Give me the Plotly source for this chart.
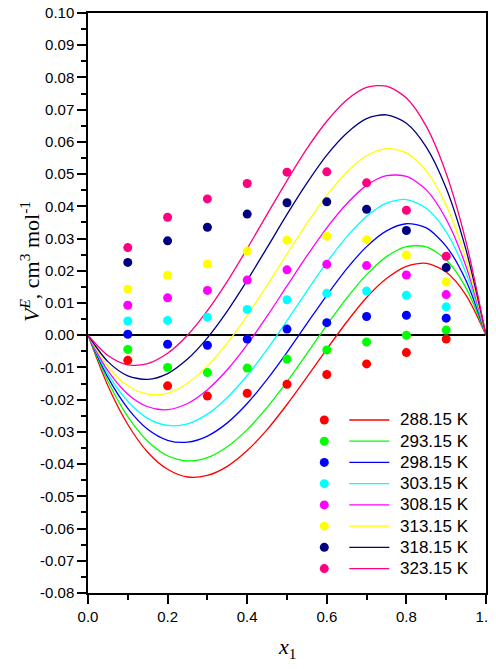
import plotly.graph_objects as go

# ---------------- data ----------------
x_points = [0.1, 0.2, 0.3, 0.4, 0.5, 0.6, 0.7, 0.8, 0.9]
x_curve = [0.0, 0.05, 0.10, 0.15, 0.20, 0.25, 0.30, 0.35, 0.40, 0.45, 0.50,
           0.55, 0.60, 0.65, 0.70, 0.75, 0.80, 0.85, 0.90, 0.95, 1.0]

temperature_labels = ["288.15 K", "293.15 K", "298.15 K", "303.15 K",
                      "308.15 K", "313.15 K", "318.15 K", "323.15 K"]

# experimental points
vE_288 = [-0.0078, -0.0157, -0.0189, -0.0180, -0.0152, -0.0122, -0.0089, -0.0054, -0.0012]
vE_293 = [-0.0044, -0.0100, -0.0116, -0.0102, -0.0074, -0.0046, -0.0021, 0.0000, 0.0016]
vE_298 = [0.0003, -0.0028, -0.0031, -0.0012, 0.0019, 0.0039, 0.0058, 0.0062, 0.0053]
vE_303 = [0.0044, 0.0046, 0.0056, 0.0080, 0.0110, 0.0130, 0.0137, 0.0124, 0.0088]
vE_308 = [0.0093, 0.0116, 0.0139, 0.0171, 0.0203, 0.0220, 0.0216, 0.0187, 0.0126]
vE_313 = [0.0143, 0.0186, 0.0221, 0.0261, 0.0295, 0.0307, 0.0296, 0.0249, 0.0165]
vE_318 = [0.0226, 0.0293, 0.0335, 0.0376, 0.0411, 0.0414, 0.0391, 0.0325, 0.0210]
vE_323 = [0.0272, 0.0366, 0.0423, 0.0471, 0.0506, 0.0507, 0.0473, 0.0388, 0.0245]

# fitted curves
fit_288 = [0, -0.0157, -0.0277, -0.0363, -0.0416, -0.0440, -0.0435, -0.0407, -0.0358, -0.0293, -0.0215,
           -0.0130, -0.0043, 0.0041, 0.0117, 0.0176, 0.0214, 0.0223, 0.0196, 0.0124, 0]
fit_293 = [0, -0.0143, -0.0253, -0.0329, -0.0374, -0.0390, -0.0380, -0.0346, -0.0293, -0.0224, -0.0144,
           -0.0057, 0.0031, 0.0115, 0.0188, 0.0244, 0.0275, 0.0274, 0.0234, 0.0146, 0]
fit_298 = [0, -0.0131, -0.0227, -0.0292, -0.0326, -0.0332, -0.0313, -0.0272, -0.0212, -0.0137, -0.0053,
           0.0036, 0.0124, 0.0206, 0.0275, 0.0324, 0.0346, 0.0333, 0.0276, 0.0169, 0]
fit_303 = [0, -0.0120, -0.0205, -0.0258, -0.0280, -0.0275, -0.0245, -0.0193, -0.0125, -0.0044, 0.0045,
           0.0137, 0.0226, 0.0305, 0.0369, 0.0410, 0.0421, 0.0394, 0.0321, 0.0192, 0]
fit_308 = [0, -0.0110, -0.0183, -0.0222, -0.0231, -0.0212, -0.0169, -0.0107, -0.0029, 0.0059, 0.0153,
           0.0246, 0.0333, 0.0408, 0.0465, 0.0495, 0.0493, 0.0451, 0.0360, 0.0213, 0]
fit_313 = [0, -0.0097, -0.0157, -0.0183, -0.0180, -0.0149, -0.0096, -0.0024, 0.0061, 0.0155, 0.0252,
           0.0347, 0.0434, 0.0506, 0.0557, 0.0579, 0.0566, 0.0510, 0.0403, 0.0236, 0]
fit_318 = [0, -0.0082, -0.0126, -0.0137, -0.0119, -0.0074, -0.0008, 0.0075, 0.0170, 0.0272, 0.0375,
           0.0472, 0.0559, 0.0627, 0.0672, 0.0684, 0.0658, 0.0584, 0.0456, 0.0264, 0]
fit_323 = [0, -0.0063, -0.0092, -0.0088, -0.0056, 0.0000, 0.0076, 0.0167, 0.0269, 0.0375, 0.0480,
           0.0579, 0.0664, 0.0730, 0.0769, 0.0773, 0.0736, 0.0648, 0.0502, 0.0289, 0]

y_tick_values = [0.10, 0.09, 0.08, 0.07, 0.06, 0.05, 0.04, 0.03, 0.02, 0.01, 0.00,
                 -0.01, -0.02, -0.03, -0.04, -0.05, -0.06, -0.07, -0.08]
y_tick_labels = ["0.10", "0.09", "0.08", "0.07", "0.06", "0.05", "0.04", "0.03", "0.02", "0.01", "0.00",
                 "-0.01", "-0.02", "-0.03", "-0.04", "-0.05", "-0.06", "-0.07", "-0.08"]
x_tick_values = [0.0, 0.2, 0.4, 0.6, 0.8, 1.0]
x_tick_labels = ["0.0", "0.2", "0.4", "0.6", "0.8", "1.0"]
# unlabeled ticks seen on the right-hand frame
right_tick_values = [0.0823, 0.0642, 0.0461, 0.0280, 0.0098, -0.0083, -0.0264, -0.0444, -0.0626]

# ---------------- styling ----------------
colors = ["#FF0000", "#00FF00", "#0000FF", "#00FFFF",
          "#FF00FF", "#FFFF00", "#000080", "#FF0080"]
points = [vE_288, vE_293, vE_298, vE_303, vE_308, vE_313, vE_318, vE_323]
fits = [fit_288, fit_293, fit_298, fit_303, fit_308, fit_313, fit_318, fit_323]

SANS = "Liberation Sans, Arial, sans-serif"
SERIF = "Liberation Serif, Times New Roman, serif"

fig = go.Figure()
for fit, col, lab in zip(fits, colors, temperature_labels):
    fig.add_trace(go.Scatter(x=x_curve, y=fit, mode="lines", name=lab,
                             line=dict(color=col, width=1.3, shape="spline", smoothing=0.8),
                             showlegend=False, hoverinfo="skip"))
for pts, col, lab in zip(points, colors, temperature_labels):
    fig.add_trace(go.Scatter(x=x_points, y=pts, mode="markers", name=lab,
                             marker=dict(color=col, size=9, line=dict(width=0)),
                             showlegend=False))

# manual legend (marker, separate line, label)
mk_x, ln_x0, ln_x1, tx_x = 0.5937, 0.6565, 0.7570, 0.7796
row0, row_step = 0.2983, 0.0366
shapes = []
annotations = []
for i, (col, lab) in enumerate(zip(colors, temperature_labels)):
    yy = row0 - i * row_step
    shapes.append(dict(type="circle", xref="paper", yref="paper",
                       xsizemode="pixel", ysizemode="pixel",
                       xanchor=mk_x, yanchor=yy, x0=-4.5, x1=4.5, y0=-4.5, y1=4.5,
                       fillcolor=col, line=dict(width=0)))
    shapes.append(dict(type="line", xref="paper", yref="paper",
                       x0=ln_x0, x1=ln_x1, y0=yy, y1=yy,
                       line=dict(color=col, width=1.3)))
    annotations.append(dict(xref="paper", yref="paper", x=tx_x, y=yy,
                            xanchor="left", yanchor="middle", showarrow=False,
                            text=lab, font=dict(family=SANS, size=17, color="black")))

annotations.append(dict(xref="paper", yref="paper", x=-0.1457, y=0.5707,
                        xanchor="center", yanchor="middle", showarrow=False, textangle=-90,
                        text="<i>V</i><sup><i>E</i></sup>, cm<sup>3</sup> mol<sup>-1</sup>",
                        font=dict(family=SERIF, size=22, color="black")))
annotations.append(dict(xref="paper", yref="paper", x=0.5, y=-0.095,
                        xanchor="center", yanchor="middle", showarrow=False,
                        text="<i>x</i><sub>1</sub>",
                        font=dict(family=SERIF, size=22, color="black")))

axis_common = dict(showline=True, linecolor="black", linewidth=1.5, mirror=True,
                   ticks="outside", ticklen=9, tickwidth=1.5, tickcolor="black",
                   showgrid=False, automargin=False, ticklabeloverflow="allow",
                   tickfont=dict(family=SANS, size=15, color="black"))

# the page body adds an 8 px offset, so the figure is sized/margined to compensate
fig.update_layout(
    width=488, height=661,
    margin=dict(l=80, r=10, t=5, b=76, autoexpand=False),
    plot_bgcolor="white", paper_bgcolor="white",
    showlegend=False,
    shapes=shapes, annotations=annotations,
    xaxis=dict(range=[0, 1], tickmode="array", tickvals=x_tick_values, ticktext=x_tick_labels,
               zeroline=False,
               minor=dict(dtick=0.1, tick0=0, ticks="outside", ticklen=5, tickwidth=1.5,
                          tickcolor="black", showgrid=False),
               **axis_common),
    yaxis=dict(range=[-0.08, 0.10], tickmode="array", tickvals=y_tick_values, ticktext=y_tick_labels,
               zeroline=True, zerolinecolor="black", zerolinewidth=1.5,
               minor=dict(dtick=0.005, tick0=0, ticks="outside", ticklen=5, tickwidth=1.5,
                          tickcolor="black", showgrid=False),
               **axis_common),
    yaxis2=dict(range=[-0.08, 0.10], overlaying="y", side="right", anchor="x",
                tickmode="array", tickvals=right_tick_values, showticklabels=False,
                ticks="inside", ticklen=4, tickwidth=1.5, tickcolor="black",
                showline=False, showgrid=False, zeroline=False, automargin=False),
)

fig.write_html("out.html")
